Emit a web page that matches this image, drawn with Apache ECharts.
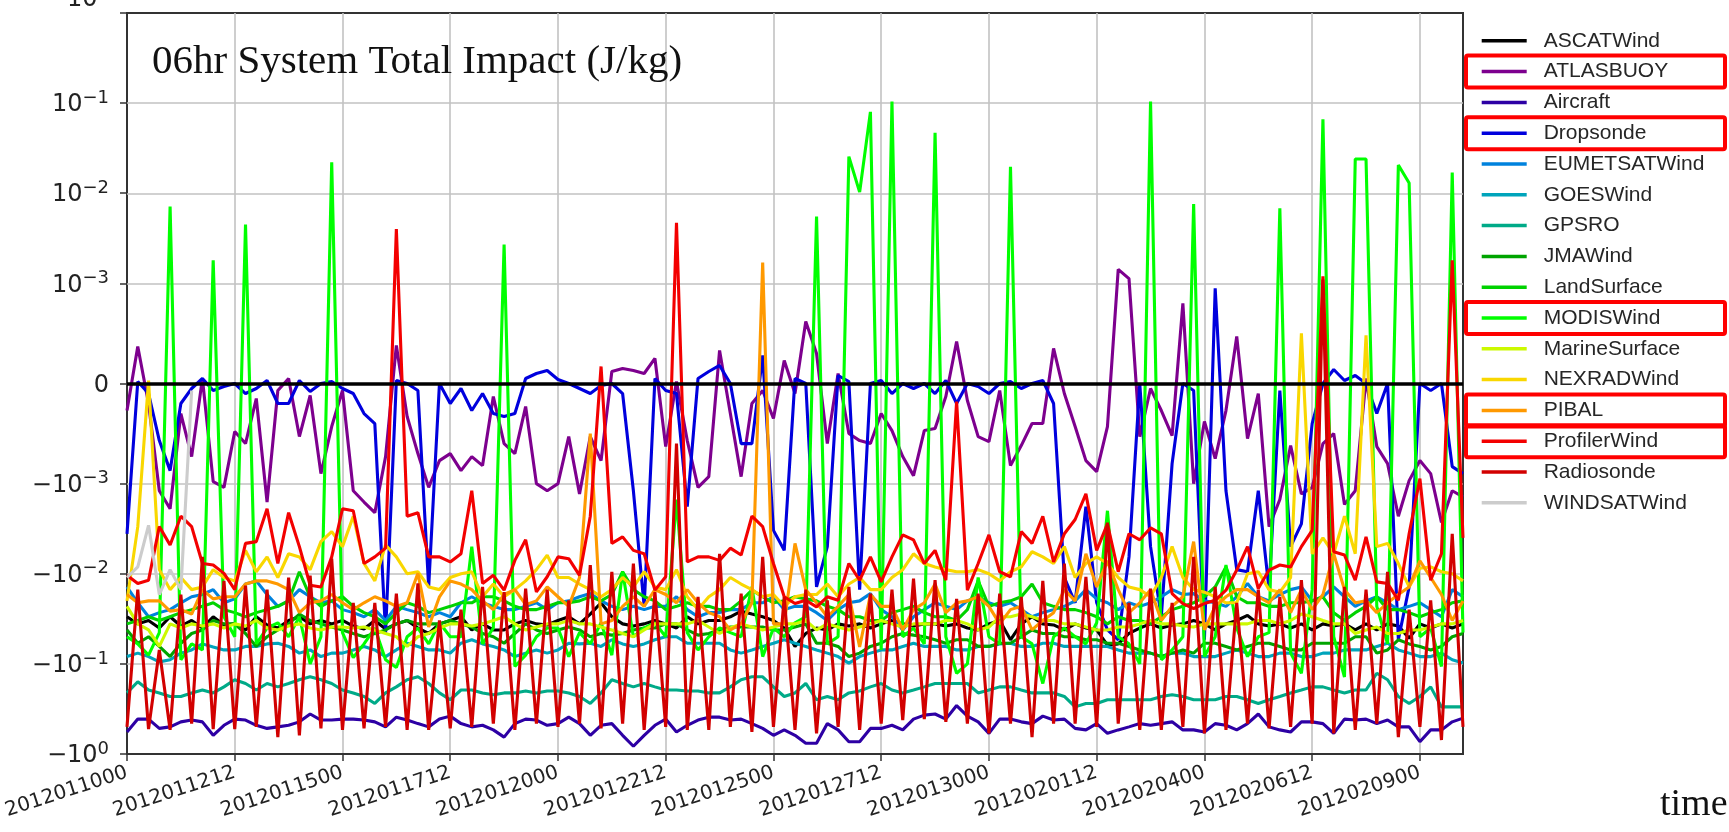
<!DOCTYPE html>
<html>
<head>
<meta charset="utf-8">
<script src="https://cdn.jsdelivr.net/npm/echarts@6/dist/echarts.min.js"></script>
<style>
  html, body { margin: 0; padding: 0; background: #ffffff; }
  #chart { width: 1729px; height: 832px; }
</style>
</head>
<body>
<div id="chart"></div>
<script>
// ---- analysis times (6-hourly, 2012011000 .. 2012021000) ----
function stamp(ms) {
  const d = new Date(ms);
  const p = n => String(n).padStart(2, '0');
  return d.getUTCFullYear() + p(d.getUTCMonth() + 1) + p(d.getUTCDate()) + p(d.getUTCHours());
}
const timeLabels = Array.from({ length: 125 }, (_, k) => stamp(Date.UTC(2012, 0, 10, 0) + k * 6 * 3600 * 1000));

// ---- y ticks (symmetric log scale) ----
const yTickValues = [-1, -0.1, -0.01, -0.001, 0, 0.001, 0.01, 0.1, 1];
const yTickBase = ['\u221210', '\u221210', '\u221210', '\u221210', '0', '10', '10', '10', '10'];
const yTickExp  = ['0', '\u22121', '\u22122', '\u22123', '', '\u22123', '\u22122', '\u22121', '0'];

// ---- total impact per observing system (J/kg) ----
const ascatWind = [
  -0.03, -0.036, -0.033, -0.04, -0.03, -0.038, -0.033, -0.04, -0.03, -0.037,
  -0.036, -0.042, -0.03, -0.037, -0.04, -0.033, -0.03, -0.036, -0.033, -0.036,
  -0.033, -0.038, -0.041, -0.033, -0.041, -0.036, -0.033, -0.04, -0.046, -0.036,
  -0.033, -0.03, -0.042, -0.036, -0.042, -0.042, -0.036, -0.033, -0.036, -0.037,
  -0.033, -0.03, -0.036, -0.028, -0.021, -0.03, -0.036, -0.038, -0.036, -0.033,
  -0.036, -0.04, -0.03, -0.036, -0.033, -0.033, -0.03, -0.026, -0.028, -0.03,
  -0.033, -0.04, -0.064, -0.046, -0.04, -0.042, -0.036, -0.038, -0.036, -0.04,
  -0.036, -0.033, -0.036, -0.038, -0.036, -0.036, -0.038, -0.036, -0.04, -0.042,
  -0.036, -0.033, -0.054, -0.036, -0.03, -0.036, -0.037, -0.042, -0.036, -0.04,
  -0.042, -0.062, -0.06, -0.046, -0.04, -0.036, -0.04, -0.037, -0.036, -0.033,
  -0.036, -0.042, -0.036, -0.033, -0.029, -0.036, -0.038, -0.036, -0.04, -0.036,
  -0.042, -0.036, -0.038, -0.036, -0.042, -0.036, -0.042, -0.036, -0.038, -0.052,
  -0.036, -0.04, -0.036, -0.04, -0.036
];
const atlasBuoy = [
  -0.00027, 0.00037, -0.0002, -0.0012, -0.0019, -0.0003, -0.00073, 0.00005, -0.00098, -0.0011,
  -0.00048, -0.0006, -0.00015, -0.0016, -0.00007, 0.00005, -0.00053, -0.00012, -0.0009, -0.00043,
  -0.00007, -0.0012, -0.0016, -0.0021, -0.00073, 0.00038, -0.00033, -0.0007, -0.0011, -0.00077,
  -0.0007, -0.00087, -0.00073, -0.00082, -0.00013, -0.0006, -0.0007, -0.00023, -0.001, -0.0012,
  -0.001, -0.00053, -0.0013, -0.00053, -0.00077, 0.00012, 0.00015, 0.00013, 0.0001, 0.00025,
  -0.00063, 0.00002, -0.00057, -0.0011, -0.00093, 0.00033, -0.0003, -0.00093, -0.0002, -0.00007,
  -0.00035, 0.00023, -0.0001, 0.00062, 0.0003, -0.0006, 0.0001, -0.0005, -0.00057, -0.0006,
  -0.0003, -0.00047, -0.00073, -0.00092, -0.00047, -0.00045, -0.00013, 0.00042, -0.00017, -0.00053,
  -0.00058, -0.00007, -0.00082, -0.00062, -0.0004, -0.0004, 0.00035, -0.0001, -0.00043, -0.00077,
  -0.00088, -0.00043, 0.00143, 0.00113, -0.00053, -0.00005, -0.00027, -0.00052, 0.0008, -0.001,
  -0.00038, -0.00075, -0.00027, 0.00047, -0.00055, -0.0001, -0.003, -0.0015, -0.00062, -0.0013,
  -0.0011, -0.0006, -0.0005, -0.0017, -0.0012, 0.00005, -0.00063, -0.0008, -0.0023, -0.00097,
  -0.00077, -0.0009, -0.0027, -0.0012, -0.0014
];
const aircraft = [
  -0.57, -0.41, -0.41, -0.52, -0.5, -0.44, -0.42, -0.44, -0.62, -0.48,
  -0.41, -0.42, -0.48, -0.52, -0.5, -0.48, -0.44, -0.36, -0.42, -0.42,
  -0.41, -0.41, -0.42, -0.44, -0.5, -0.39, -0.42, -0.46, -0.5, -0.41,
  -0.38, -0.46, -0.5, -0.48, -0.54, -0.65, -0.46, -0.41, -0.42, -0.48,
  -0.46, -0.39, -0.46, -0.62, -0.48, -0.46, -0.62, -0.82, -0.62, -0.48,
  -0.41, -0.57, -0.48, -0.42, -0.39, -0.39, -0.42, -0.41, -0.46, -0.52,
  -0.62, -0.54, -0.62, -0.76, -0.76, -0.46, -0.54, -0.73, -0.73, -0.52,
  -0.52, -0.48, -0.54, -0.41, -0.37, -0.36, -0.41, -0.29, -0.38, -0.44,
  -0.59, -0.41, -0.41, -0.44, -0.46, -0.38, -0.42, -0.41, -0.52, -0.54,
  -0.46, -0.59, -0.54, -0.5, -0.46, -0.48, -0.46, -0.44, -0.54, -0.54,
  -0.57, -0.46, -0.48, -0.54, -0.46, -0.36, -0.5, -0.54, -0.57, -0.44,
  -0.44, -0.46, -0.59, -0.41, -0.42, -0.41, -0.46, -0.42, -0.5, -0.5,
  -0.73, -0.54, -0.54, -0.44, -0.4
];
const dropsonde = [
  -0.0036, 0.00002, -0.0001, -0.00057, -0.00087, -0.0002, -0.00005, 0.00005, -0.00007, -0.00003,
  0, -0.0001, -0.00005, 0.00003, -0.0002, -0.0002, 0.00003, -0.00008, 0, 0.00002,
  -0.00005, -0.0001, -0.0003, -0.0004, -0.045, 0.00003, 0, -0.00007, -0.014, 0,
  -0.0002, -0.00005, -0.00027, -0.0001, -0.0003, -0.00033, -0.0003, 0.00005, 0.0001, 0.00013,
  0.00004, 0, -0.00005, -0.0001, -0.00002, 0, -0.0001, -0.0012, -0.023, 0.00005,
  -0.00007, -0.0001, -0.0018, 0.00005, 0.00012, 0.00018, 0, -0.0006, -0.0006, 0.00028,
  -0.0033, -0.0055, 0.00005, 0, -0.014, -0.005, 0.00008, 0.00002, -0.015, 0,
  0.00003, -0.0001, 0, -0.00005, 0, -0.0001, 0.00003, -0.0002, 0, -0.00003,
  -0.0001, 0, 0.00002, -0.00005, 0, 0.00003, -0.0002, -0.011, -0.021, -0.0018,
  -0.021, -0.042, -0.054, -0.0065, 0, -0.005, -0.03, -0.0008, 0, -0.00007,
  -0.054, 0.00095, -0.0012, -0.009, -0.0095, -0.0012, -0.015, -0.00007, -0.005, -0.0028,
  -0.0004, 0, 0.00014, 0.00003, 0.00008, 0, -0.0003, 0, -0.054, -0.014,
  0, -0.00007, 0, -0.00083, -0.0009
];
const eumetsatWind = [
  -0.014, -0.021, -0.03, -0.027, -0.025, -0.021, -0.018, -0.017, -0.015, -0.021,
  -0.019, -0.013, -0.012, -0.017, -0.023, -0.02, -0.015, -0.018, -0.021, -0.02,
  -0.025, -0.027, -0.03, -0.025, -0.033, -0.023, -0.025, -0.027, -0.03, -0.027,
  -0.03, -0.021, -0.018, -0.021, -0.023, -0.025, -0.025, -0.023, -0.021, -0.025,
  -0.021, -0.02, -0.018, -0.0166, -0.02, -0.023, -0.025, -0.023, -0.025, -0.023,
  -0.023, -0.018, -0.025, -0.03, -0.027, -0.027, -0.025, -0.025, -0.021, -0.021,
  -0.018, -0.025, -0.023, -0.023, -0.027, -0.033, -0.025, -0.021, -0.02, -0.0166,
  -0.025, -0.03, -0.042, -0.03, -0.025, -0.021, -0.023, -0.025, -0.02, -0.018,
  -0.021, -0.023, -0.021, -0.025, -0.03, -0.027, -0.025, -0.023, -0.02, -0.015,
  -0.019, -0.021, -0.025, -0.021, -0.023, -0.021, -0.018, -0.015, -0.017, -0.0166,
  -0.02, -0.021, -0.023, -0.018, -0.0128, -0.018, -0.02, -0.017, -0.015, -0.014,
  -0.02, -0.018, -0.014, -0.018, -0.023, -0.02, -0.018, -0.021, -0.025, -0.023,
  -0.021, -0.025, -0.03, -0.015, -0.018
];
const goesWind = [
  -0.083, -0.076, -0.083, -0.095, -0.09, -0.076, -0.07, -0.06, -0.065, -0.07,
  -0.07, -0.064, -0.064, -0.06, -0.059, -0.064, -0.076, -0.07, -0.083, -0.076,
  -0.076, -0.07, -0.064, -0.07, -0.083, -0.07, -0.059, -0.064, -0.07, -0.07,
  -0.076, -0.059, -0.054, -0.06, -0.064, -0.07, -0.083, -0.076, -0.07, -0.076,
  -0.07, -0.059, -0.06, -0.059, -0.064, -0.054, -0.06, -0.064, -0.06, -0.054,
  -0.05, -0.05, -0.059, -0.059, -0.059, -0.059, -0.07, -0.076, -0.07, -0.064,
  -0.059, -0.054, -0.059, -0.064, -0.07, -0.076, -0.083, -0.098, -0.083, -0.076,
  -0.07, -0.07, -0.064, -0.059, -0.064, -0.064, -0.064, -0.07, -0.07, -0.064,
  -0.064, -0.06, -0.059, -0.064, -0.064, -0.059, -0.059, -0.064, -0.064, -0.064,
  -0.064, -0.064, -0.07, -0.076, -0.076, -0.076, -0.083, -0.076, -0.076, -0.083,
  -0.083, -0.083, -0.076, -0.07, -0.076, -0.083, -0.083, -0.076, -0.076, -0.083,
  -0.083, -0.076, -0.076, -0.07, -0.07, -0.07, -0.064, -0.059, -0.07, -0.076,
  -0.083, -0.083, -0.076, -0.09, -0.098
];
const gpsro = [
  -0.21, -0.158, -0.195, -0.21, -0.23, -0.23, -0.21, -0.195, -0.21, -0.18,
  -0.15, -0.165, -0.195, -0.165, -0.18, -0.165, -0.15, -0.139, -0.15, -0.165,
  -0.195, -0.21, -0.23, -0.275, -0.21, -0.18, -0.15, -0.139, -0.165, -0.21,
  -0.25, -0.195, -0.195, -0.21, -0.22, -0.21, -0.21, -0.2, -0.21, -0.2,
  -0.2, -0.21, -0.23, -0.275, -0.21, -0.15, -0.165, -0.18, -0.165, -0.18,
  -0.195, -0.195, -0.2, -0.2, -0.21, -0.21, -0.18, -0.15, -0.139, -0.139,
  -0.18, -0.23, -0.21, -0.165, -0.25, -0.23, -0.25, -0.21, -0.2, -0.18,
  -0.165, -0.195, -0.21, -0.195, -0.18, -0.165, -0.165, -0.165, -0.165, -0.21,
  -0.195, -0.18, -0.18, -0.195, -0.21, -0.21, -0.21, -0.23, -0.3, -0.275,
  -0.275, -0.25, -0.25, -0.25, -0.25, -0.25, -0.23, -0.22, -0.23, -0.25,
  -0.25, -0.25, -0.23, -0.23, -0.25, -0.275, -0.25, -0.23, -0.21, -0.195,
  -0.18, -0.18, -0.195, -0.21, -0.195, -0.195, -0.127, -0.15, -0.23, -0.275,
  -0.23, -0.18, -0.3, -0.3, -0.3
];
const jmaWind = [
  -0.042, -0.059, -0.05, -0.064, -0.083, -0.059, -0.046, -0.042, -0.033, -0.036,
  -0.036, -0.046, -0.064, -0.05, -0.042, -0.036, -0.028, -0.033, -0.036, -0.039,
  -0.042, -0.046, -0.05, -0.046, -0.042, -0.036, -0.033, -0.036, -0.036, -0.036,
  -0.033, -0.036, -0.039, -0.046, -0.05, -0.059, -0.046, -0.036, -0.042, -0.046,
  -0.042, -0.039, -0.042, -0.05, -0.046, -0.048, -0.046, -0.042, -0.04, -0.04,
  -0.036, -0.036, -0.042, -0.048, -0.046, -0.042, -0.039, -0.039, -0.039, -0.039,
  -0.042, -0.042, -0.039, -0.036, -0.059, -0.059, -0.064, -0.083, -0.076, -0.064,
  -0.059, -0.05, -0.046, -0.048, -0.05, -0.054, -0.059, -0.054, -0.054, -0.064,
  -0.064, -0.059, -0.059, -0.05, -0.042, -0.046, -0.046, -0.05, -0.05, -0.054,
  -0.054, -0.059, -0.059, -0.064, -0.07, -0.076, -0.083, -0.076, -0.07, -0.076,
  -0.059, -0.059, -0.064, -0.07, -0.064, -0.059, -0.059, -0.064, -0.07, -0.07,
  -0.059, -0.059, -0.059, -0.059, -0.05, -0.05, -0.076, -0.07, -0.054, -0.06,
  -0.064, -0.07, -0.064, -0.05, -0.046
];
const landSurface = [
  -0.036, -0.033, -0.03, -0.033, -0.03, -0.027, -0.025, -0.023, -0.021, -0.025,
  -0.027, -0.03, -0.027, -0.025, -0.023, -0.02, -0.0095, -0.018, -0.023, -0.02,
  -0.018, -0.023, -0.027, -0.03, -0.036, -0.027, -0.021, -0.023, -0.027, -0.025,
  -0.023, -0.021, -0.021, -0.018, -0.018, -0.02, -0.023, -0.025, -0.025, -0.023,
  -0.021, -0.021, -0.02, -0.018, -0.02, -0.017, -0.0095, -0.015, -0.018, -0.02,
  -0.025, -0.023, -0.021, -0.023, -0.023, -0.025, -0.025, -0.02, -0.0152, -0.018,
  -0.021, -0.02, -0.018, -0.019, -0.02, -0.023, -0.025, -0.03, -0.03, -0.033,
  -0.033, -0.027, -0.025, -0.023, -0.027, -0.03, -0.03, -0.033, -0.025, -0.012,
  -0.023, -0.021, -0.02, -0.018, -0.013, -0.021, -0.023, -0.025, -0.025, -0.027,
  -0.03, -0.036, -0.03, -0.033, -0.033, -0.036, -0.03, -0.025, -0.023, -0.021,
  -0.018, -0.014, -0.0084, -0.018, -0.021, -0.021, -0.023, -0.023, -0.021, -0.021,
  -0.02, -0.018, -0.027, -0.033, -0.027, -0.023, -0.018, -0.025, -0.025, -0.027,
  -0.03, -0.027, -0.025, -0.021, -0.02
];
const modisWind = [
  -0.05, -0.06, -0.08, -0.045, 0.0071, -0.09, -0.06, -0.07, 0.0018, -0.03,
  -0.05, 0.0045, -0.06, -0.04, -0.035, -0.05, -0.03, -0.1, -0.05, 0.022,
  -0.045, -0.085, -0.06, -0.04, -0.09, -0.11, -0.05, -0.04, -0.06, -0.035,
  -0.05, -0.05, -0.005, -0.06, -0.04, 0.0027, -0.107, -0.08, -0.05, -0.04,
  -0.04, -0.083, -0.045, -0.06, -0.035, -0.08, -0.0095, -0.05, -0.04, -0.035,
  -0.05, -0.0015, -0.045, -0.07, -0.05, -0.04, -0.045, -0.05, -0.014, -0.083,
  -0.04, -0.05, -0.035, -0.03, 0.0055, -0.06, -0.05, 0.0255, 0.0103, 0.08,
  -0.07, 0.104, -0.05, -0.04, -0.06, 0.047, -0.05, -0.127, -0.1, -0.011,
  -0.05, -0.06, 0.0197, -0.05, -0.06, -0.165, -0.05, -0.04, -0.05, -0.06,
  -0.035, -0.002, -0.05, -0.06, -0.1, 0.104, -0.09, -0.07, -0.05, 0.0076,
  -0.083, -0.05, -0.008, -0.04, -0.083, -0.05, -0.045, 0.0068, -0.076, -0.127,
  -0.015, 0.066, -0.05, -0.14, 0.024, 0.024, -0.023, -0.06, 0.0206, 0.013,
  -0.05, -0.04, -0.107, 0.017, -0.045
];
const marineSurface = [
  -0.023, -0.036, -0.042, -0.064, -0.036, -0.04, -0.036, -0.038, -0.036, -0.04,
  -0.036, -0.038, -0.033, -0.04, -0.042, -0.038, -0.036, -0.04, -0.042, -0.039,
  -0.039, -0.04, -0.039, -0.042, -0.046, -0.05, -0.064, -0.05, -0.046, -0.04,
  -0.036, -0.036, -0.038, -0.036, -0.033, -0.03, -0.036, -0.042, -0.039, -0.036,
  -0.036, -0.033, -0.036, -0.036, -0.039, -0.042, -0.046, -0.05, -0.042, -0.036,
  -0.036, -0.036, -0.036, -0.033, -0.039, -0.046, -0.04, -0.036, -0.039, -0.042,
  -0.039, -0.036, -0.036, -0.033, -0.042, -0.036, -0.039, -0.042, -0.039, -0.036,
  -0.033, -0.036, -0.039, -0.036, -0.036, -0.036, -0.033, -0.033, -0.036, -0.042,
  -0.039, -0.03, -0.03, -0.028, -0.03, -0.033, -0.033, -0.036, -0.036, -0.039,
  -0.042, -0.042, -0.039, -0.039, -0.036, -0.033, -0.036, -0.036, -0.038, -0.039,
  -0.036, -0.036, -0.036, -0.036, -0.036, -0.033, -0.033, -0.036, -0.033, -0.028,
  -0.03, -0.033, -0.036, -0.036, -0.046, -0.042, -0.039, -0.046, -0.046, -0.042,
  -0.042, -0.039, -0.036, -0.036, -0.033
];
const nexradWind = [
  -0.02, -0.003, 0.00003, -0.009, -0.015, -0.011, -0.015, -0.014, -0.009, -0.011,
  -0.012, -0.0055, -0.0095, -0.0065, -0.011, -0.006, -0.0065, -0.009, -0.0044, -0.0034,
  -0.005, -0.0023, -0.0077, -0.012, -0.0048, -0.0065, -0.01, -0.0095, -0.014, -0.015,
  -0.011, -0.01, -0.0095, -0.018, -0.013, -0.018, -0.015, -0.012, -0.009, -0.0062,
  -0.011, -0.011, -0.013, -0.015, -0.018, -0.015, -0.011, -0.014, -0.0095, -0.014,
  -0.015, -0.009, -0.018, -0.025, -0.018, -0.015, -0.011, -0.013, -0.015, -0.018,
  -0.017, -0.023, -0.018, -0.017, -0.017, -0.013, -0.018, -0.013, -0.011, -0.015,
  -0.015, -0.011, -0.009, -0.006, -0.0077, -0.0084, -0.009, -0.0095, -0.0095, -0.009,
  -0.01, -0.012, -0.0095, -0.0084, -0.0057, -0.0065, -0.0077, -0.005, -0.011, -0.0077,
  -0.0065, -0.0077, -0.011, -0.014, -0.015, -0.018, -0.011, -0.005, -0.011, -0.015,
  -0.016, -0.018, -0.021, -0.021, -0.01, -0.0095, -0.015, -0.016, -0.011, 0.0005,
  -0.006, -0.004, -0.006, -0.0023, -0.006, 0.00048, -0.005, -0.0046, -0.0077, -0.014,
  -0.0087, -0.0084, -0.0095, -0.01, -0.012
];
const pibal = [
  -0.017, -0.021, -0.02, -0.02, -0.026, -0.025, -0.028, -0.015, -0.019, -0.018,
  -0.018, -0.013, -0.012, -0.012, -0.013, -0.015, -0.027, -0.021, -0.02, -0.017,
  -0.021, -0.025, -0.021, -0.018, -0.02, -0.023, -0.021, -0.0099, -0.039, -0.018,
  -0.012, -0.013, -0.015, -0.02, -0.025, -0.017, -0.015, -0.022, -0.02, -0.014,
  -0.018, -0.023, -0.011, -0.0005, -0.036, -0.033, -0.023, -0.018, -0.023, -0.015,
  -0.017, -0.021, -0.015, -0.021, -0.027, -0.03, -0.042, -0.036, -0.021, 0.0017,
  -0.036, -0.036, -0.0046, -0.015, -0.021, -0.03, -0.023, -0.017, -0.065, -0.017,
  -0.023, -0.023, -0.042, -0.025, -0.021, -0.013, -0.027, -0.021, -0.02, -0.018,
  -0.023, -0.036, -0.025, -0.023, -0.042, -0.033, -0.027, -0.015, -0.02, -0.006,
  -0.014, -0.0072, -0.015, -0.027, -0.021, -0.015, -0.033, -0.023, -0.018, -0.0044,
  -0.042, -0.023, -0.018, -0.015, -0.015, -0.018, -0.021, -0.015, -0.027, -0.015,
  -0.025, -0.017, -0.006, -0.015, -0.021, -0.02, -0.027, -0.021, -0.017, -0.014,
  -0.0072, -0.011, -0.017, -0.033, -0.02
];
const profilerWind = [
  -0.0104, -0.0128, -0.0118, -0.003, -0.0048, -0.0023, -0.003, -0.0077, -0.008, -0.0099,
  -0.015, -0.0046, -0.0044, -0.0019, -0.0077, -0.0021, -0.005, -0.0134, -0.014, -0.0065,
  -0.0019, -0.002, -0.0077, -0.0065, -0.0052, 0.004, -0.0023, -0.0021, -0.0065, -0.0065,
  -0.0074, -0.006, -0.0012, -0.0128, -0.0104, -0.0152, -0.0071, -0.0042, -0.0159, -0.0108,
  -0.0065, -0.0068, -0.0104, -0.0023, 0.00017, -0.0046, -0.0039, -0.0055, -0.006, -0.0152,
  -0.0108, 0.0047, -0.0074, -0.0065, -0.0065, -0.0071, -0.0052, -0.0062, -0.0023, -0.003,
  -0.0077, -0.018, -0.0214, -0.0197, -0.0233, -0.018, -0.0197, -0.0077, -0.0118, -0.0065,
  -0.0123, -0.0065, -0.0037, -0.0042, -0.0077, -0.0055, -0.0118, -0.00018, -0.0152, -0.0077,
  -0.0037, -0.0095, -0.0108, -0.0034, -0.0046, -0.0023, -0.0074, -0.0036, -0.0025, -0.0013,
  -0.0055, -0.0028, -0.0095, -0.0036, -0.0042, -0.0031, -0.0036, -0.0166, -0.0214, -0.0243,
  -0.0214, -0.0197, -0.0152, -0.0091, -0.005, -0.0146, -0.0091, -0.008, -0.0084, -0.005,
  -0.0033, 0.0012, -0.0057, -0.0062, -0.0118, -0.0039, -0.0123, -0.0128, -0.0197, -0.0036,
  -0.00095, -0.0118, -0.006, 0.0018, -0.004
];
const radiosonde = [
  -0.5, -0.015, -0.53, -0.07, -0.54, -0.017, -0.46, -0.0065, -0.53, -0.012,
  -0.53, -0.0135, -0.5, -0.015, -0.65, -0.011, -0.62, -0.0105, -0.52, -0.0068,
  -0.54, -0.021, -0.52, -0.021, -0.5, -0.0166, -0.54, -0.0128, -0.54, -0.033,
  -0.52, -0.025, -0.5, -0.014, -0.46, -0.016, -0.54, -0.0146, -0.46, -0.015,
  -0.5, -0.0197, -0.46, -0.008, -0.52, -0.0095, -0.46, -0.0077, -0.54, -0.016,
  -0.5, -0.0006, -0.54, -0.018, -0.54, -0.006, -0.5, -0.0166, -0.57, -0.0065,
  -0.5, -0.018, -0.54, -0.015, -0.59, -0.0197, -0.5, -0.014, -0.54, -0.0166,
  -0.46, -0.015, -0.42, -0.0113, -0.41, -0.0118, -0.44, -0.019, -0.46, -0.0166,
  -0.59, -0.0166, -0.46, -0.018, -0.65, -0.012, -0.46, -0.0077, -0.46, -0.0108,
  -0.5, -0.0027, -0.46, -0.021, -0.54, -0.0146, -0.54, -0.021, -0.5, -0.0065,
  -0.59, -0.014, -0.54, -0.021, -0.46, -0.015, -0.52, -0.018, -0.5, -0.0118,
  -0.46, 0.0011, -0.59, -0.014, -0.54, -0.015, -0.46, -0.0095, -0.65, -0.025,
  -0.5, -0.0197, -0.7, -0.0036, -0.5
];
const windsatWind = [-0.011, -0.0084, -0.0029, -0.017, -0.009, -0.015, -0.00007];

const seriesNames = ['ASCATWind', 'ATLASBUOY', 'Aircraft', 'Dropsonde', 'EUMETSATWind', 'GOESWind',
  'GPSRO', 'JMAWind', 'LandSurface', 'MODISWind', 'MarineSurface', 'NEXRADWind', 'PIBAL',
  'ProfilerWind', 'Radiosonde', 'WINDSATWind'];
const seriesValues = [ascatWind, atlasBuoy, aircraft, dropsonde, eumetsatWind, goesWind,
  gpsro, jmaWind, landSurface, modisWind, marineSurface, nexradWind, pibal,
  profilerWind, radiosonde, windsatWind];
// spectral colour ramp, one step per system
const seriesColors = ['#000000', '#7d008e', '#2d00a4', '#0000dd', '#0082dd', '#00a4bb',
  '#00aa88', '#00a400', '#00d200', '#00ff00', '#ccf900', '#f9d700', '#ff9900',
  '#f30000', '#d20000', '#cccccc'];
// systems outlined in the legend
const highlighted = ['ATLASBUOY', 'Dropsonde', 'MODISWind', 'PIBAL', 'ProfilerWind'];

seriesValues.forEach((arr, k) => {
  if (k < 15 && arr.length !== timeLabels.length) {
    throw new Error(seriesNames[k] + ' has ' + arr.length + ' values');
  }
});

// ---- symmetric log transform: linear inside |v| < 1e-3, log10 outside ----
const LINTHRESH = 1e-3;
const LINSCALE = 1 / (1 - 1 / 10);
function symlog(v) {
  if (v === null || v === undefined) return null;
  const a = Math.abs(v);
  if (a <= LINTHRESH) return v / LINTHRESH * LINSCALE;
  return Math.sign(v) * (LINSCALE + Math.log10(a / LINTHRESH));
}
const yTickPos = yTickValues.map(symlog);

// ---- layout ----
const W = 1729, H = 832;
const plot = { left: 127, right: 1463, top: 13, bottom: 754 };
const legendLeft = 1481.7, legendTop = 28.8, legendRow = 30.8, legendRowH = 24;
const yLabelMargin = 18, baseSize = 24, supSize = 18;

const chart = echarts.init(document.getElementById('chart'), null, { renderer: 'canvas', width: W, height: H });

const series = seriesNames.map((name, k) => ({
  name: name,
  type: 'line',
  data: seriesValues[k].map(symlog),
  showSymbol: false,
  symbol: 'none',
  connectNulls: false,
  color: seriesColors[k],
  lineStyle: { color: seriesColors[k], width: 3.1 },
  itemStyle: { color: seriesColors[k], borderWidth: 0 },
  emphasis: { disabled: true },
  silent: true,
  animation: false
}));

// horizontal grid lines at the decade ticks
series.push({
  name: '_grid', type: 'line', data: [], silent: true, animation: false,
  markLine: {
    silent: true, symbol: ['none', 'none'], z: 1, animation: false,
    label: { show: false },
    lineStyle: { color: '#c2c2c2', width: 1.6, type: 'solid' },
    data: yTickPos.filter(v => v !== 0 && Math.abs(v) < yTickPos[8] - 1e-6).map(v => ({ yAxis: v }))
  }
});
// zero reference line
series.push({
  name: '_zero', type: 'line', data: [], silent: true, animation: false,
  markLine: {
    silent: true, symbol: ['none', 'none'], z: 8, animation: false,
    label: { show: false },
    lineStyle: { color: '#000000', width: 3.5, type: 'solid' },
    data: [{ yAxis: 0 }]
  }
});

const topIdx = yTickPos.length - 1;
function yLabel(value) {
  let idx = -1;
  yTickPos.forEach((p, i) => { if (Math.abs(p - value) < 1e-6) idx = i; });
  if (idx < 0 || idx === topIdx) return '';
  return yTickExp[idx] ? '{b|' + yTickBase[idx] + '}{s|' + yTickExp[idx] + '}' : '{b|' + yTickBase[idx] + '}';
}

// the uppermost tick label runs off the top edge of the figure
const labelRight = plot.left - yLabelMargin;
const supWidth = supSize * 0.636;
const topLabel = [
  {
    type: 'text', silent: true, z: 50, x: labelRight - supWidth, y: 0,
    style: { text: yTickBase[topIdx], font: baseSize + 'px "DejaVu Sans"', fill: '#222222', textAlign: 'right', verticalAlign: 'middle' }
  },
  {
    type: 'text', silent: true, z: 50, x: labelRight, y: -5,
    style: { text: yTickExp[topIdx], font: supSize + 'px "DejaVu Sans"', fill: '#222222', textAlign: 'right', verticalAlign: 'middle' }
  }
];

const boxes = highlighted.map(name => {
  const row = seriesNames.indexOf(name);
  const cy = legendTop + row * legendRow + legendRowH / 2;
  return {
    type: 'rect', z: 100, silent: true,
    shape: { x: 1466, y: cy - 16, width: 259, height: 32, r: 2 },
    style: { fill: 'none', stroke: '#ff0000', lineWidth: 4 }
  };
});

const labelFont = 'DejaVu Sans';
const option = {
  animation: false,
  backgroundColor: '#ffffff',
  textStyle: { fontFamily: labelFont },
  grid: {
    left: plot.left, right: W - plot.right, top: plot.top, bottom: H - plot.bottom,
    show: true, borderColor: '#333333', borderWidth: 2, backgroundColor: 'transparent',
    containLabel: false, outerBoundsMode: 'none'
  },
  legend: {
    data: seriesNames,
    orient: 'vertical',
    left: legendLeft, top: legendTop,
    padding: 0,
    itemGap: legendRow - legendRowH,
    itemWidth: 57, itemHeight: legendRowH,
    icon: 'path://M0,0 M0,10.25 L45,10.25 L45,13.75 L0,13.75 Z M57,24',
    itemStyle: { borderWidth: 0 },
    selectedMode: false,
    textStyle: { fontFamily: 'Liberation Sans', fontSize: 21, lineHeight: legendRowH, color: '#262626', padding: 0 }
  },
  xAxis: {
    type: 'category',
    data: timeLabels,
    boundaryGap: false,
    axisLine: { show: true, onZero: false, lineStyle: { color: '#333333', width: 2 } },
    axisTick: { show: true, interval: 9, length: 7, lineStyle: { color: '#333333', width: 1.5 } },
    axisLabel: {
      interval: 9, rotate: 18, margin: 18,
      fontFamily: labelFont, fontSize: 20, color: '#222222'
    },
    splitLine: { show: true, interval: 9, lineStyle: { color: '#c2c2c2', width: 1.6 } }
  },
  yAxis: {
    type: 'value',
    min: yTickPos[0], max: yTickPos[topIdx],
    axisLine: { show: true, lineStyle: { color: '#333333', width: 2 } },
    axisTick: { show: true, length: 7, customValues: yTickPos, lineStyle: { color: '#333333', width: 1.5 } },
    axisLabel: {
      customValues: yTickPos,
      margin: yLabelMargin,
      formatter: yLabel,
      rich: {
        b: { fontFamily: labelFont, fontSize: baseSize, lineHeight: 28, verticalAlign: 'bottom', color: '#222222' },
        s: { fontFamily: labelFont, fontSize: supSize, lineHeight: 16, verticalAlign: 'top', color: '#222222' }
      }
    },
    splitLine: { show: false }
  },
  graphic: [
    {
      type: 'text', silent: true, z: 50,
      x: 152, y: 62,
      style: {
        text: '06hr System Total Impact (J/kg)',
        font: '41px "Liberation Serif"', fill: '#111111',
        textAlign: 'left', verticalAlign: 'middle'
      }
    },
    {
      type: 'text', silent: true, z: 50,
      x: 1660, y: 805,
      style: {
        text: 'time',
        font: '38px "Liberation Serif"', fill: '#111111',
        textAlign: 'left', verticalAlign: 'middle'
      }
    }
  ].concat(topLabel, boxes),
  series: series
};

chart.setOption(option);
</script>
</body>
</html>
